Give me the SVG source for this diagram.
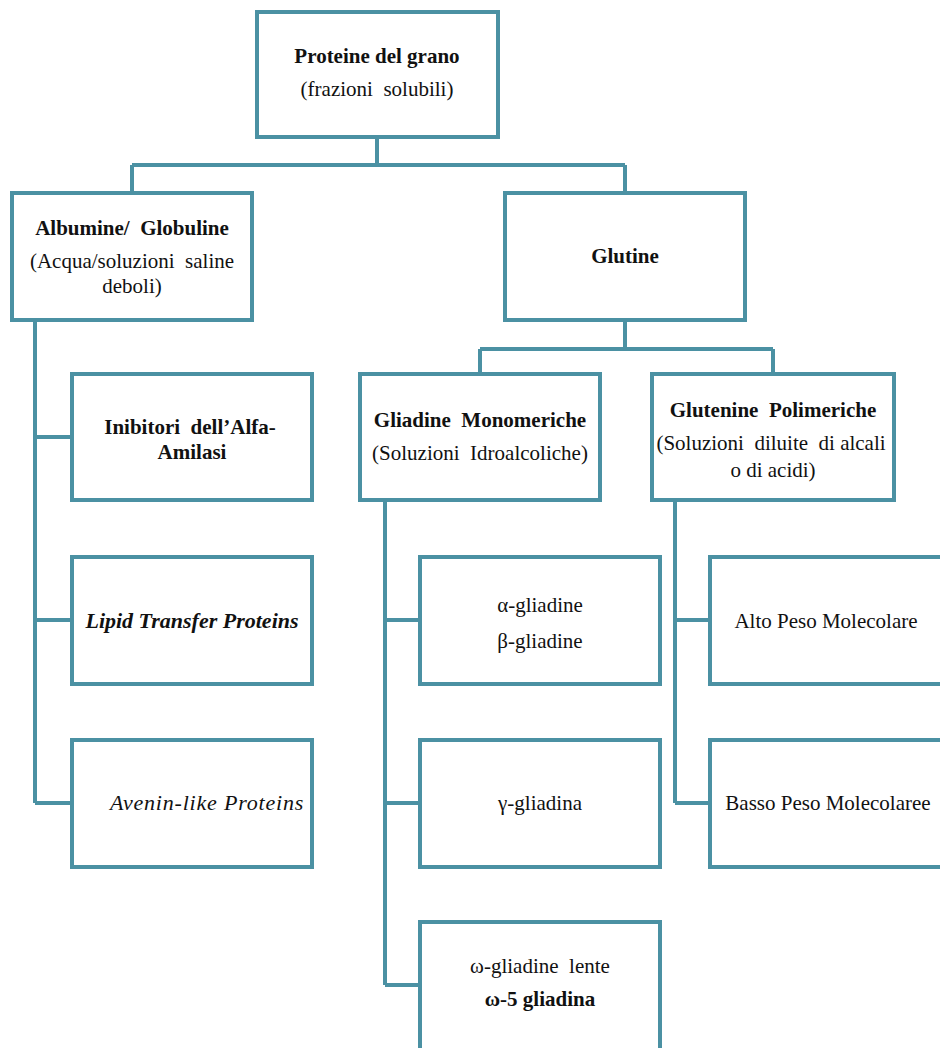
<svg xmlns="http://www.w3.org/2000/svg" width="940" height="1048" viewBox="0 0 940 1048" font-family="'Liberation Serif', 'DejaVu Serif', serif">
<style>
.box{fill:#fff;stroke:#4b91a3;stroke-width:4}
.ln{fill:none;stroke:#4b91a3;stroke-width:4}
.t{font-family:'Liberation Serif', 'Times New Roman', serif;font-size:21px;fill:#111;text-anchor:middle}
.b{font-weight:bold}
.i{font-style:italic}
</style>
<rect width="940" height="1048" fill="#fff"/>
<g id="connectors">
<path class="ln" d="M377 137V165M132 165H625M132 165V193M625 165V193"/>
<path class="ln" d="M625 320V349M480 349H773M480 349V374M773 349V374"/>
<path class="ln" d="M35 320V803M35 437H72M35 620H72M35 803H72"/>
<path class="ln" d="M385 500V985M385 620H420M385 803H420M385 985H420"/>
<path class="ln" d="M675 500V803M675 620H710M675 803H710"/>
</g>
<g id="n-top"><rect class="box" x="257" y="12" width="241" height="125"/>
<text x="377" y="63" class="t b">Proteine del grano</text>
<text x="377" y="96" class="t" xml:space="preserve">(frazioni  solubili)</text></g>
<g id="n-albumine"><rect class="box" x="12" y="193" width="240" height="127"/>
<text x="132" y="235" class="t b" xml:space="preserve">Albumine/  Globuline</text>
<text x="132" y="268" class="t" xml:space="preserve">(Acqua/soluzioni  saline</text>
<text x="132" y="293" class="t">deboli)</text></g>
<g id="n-glutine"><rect class="box" x="505" y="193" width="240" height="127"/>
<text x="625" y="263" class="t b">Glutine</text></g>
<g id="n-gliadine"><rect class="box" x="360" y="374" width="240" height="126"/>
<text x="480" y="427" class="t b" xml:space="preserve">Gliadine  Monomeriche</text>
<text x="480" y="460" class="t" xml:space="preserve">(Soluzioni  Idroalcoliche)</text></g>
<g id="n-glutenine"><rect class="box" x="652" y="374" width="242" height="126"/>
<text x="773" y="417" class="t b" xml:space="preserve">Glutenine  Polimeriche</text>
<text x="771" y="450" class="t" xml:space="preserve">(Soluzioni  diluite  di alcali</text>
<text x="773" y="477" class="t">o di acidi)</text></g>
<g id="n-inibitori"><rect class="box" x="72" y="374" width="240" height="126"/>
<text x="190" y="434" class="t b" xml:space="preserve">Inibitori  dell’Alfa-</text>
<text x="192" y="459" class="t b">Amilasi</text></g>
<g id="n-lipid"><rect class="box" x="72" y="557" width="240" height="127"/>
<text x="192" y="628" class="t b i" style="font-size:22px">Lipid Transfer Proteins</text></g>
<g id="n-avenin"><rect class="box" x="72" y="740" width="240" height="127"/>
<text x="207" y="810" class="t i" style="font-size:22px;letter-spacing:0.8px">Avenin-like Proteins</text></g>
<g id="n-alphabeta"><rect class="box" x="420" y="557" width="240" height="127"/>
<text x="540" y="612" class="t">α-gliadine</text>
<text x="540" y="648" class="t">β-gliadine</text></g>
<g id="n-gamma"><rect class="box" x="420" y="740" width="240" height="127"/>
<text x="540" y="810" class="t">γ-gliadina</text></g>
<g id="n-omega"><rect class="box" x="420" y="922" width="240" height="140"/>
<text x="540" y="973" class="t" xml:space="preserve">ω-gliadine  lente</text>
<text x="540" y="1006" class="t b">ω-5 gliadina</text></g>
<g id="n-alto"><rect class="box" x="710" y="557" width="250" height="127"/>
<text x="826" y="628" class="t">Alto Peso Molecolare</text></g>
<g id="n-basso"><rect class="box" x="710" y="740" width="250" height="127"/>
<text x="828" y="810" class="t">Basso Peso Molecolaree</text></g>
</svg>
